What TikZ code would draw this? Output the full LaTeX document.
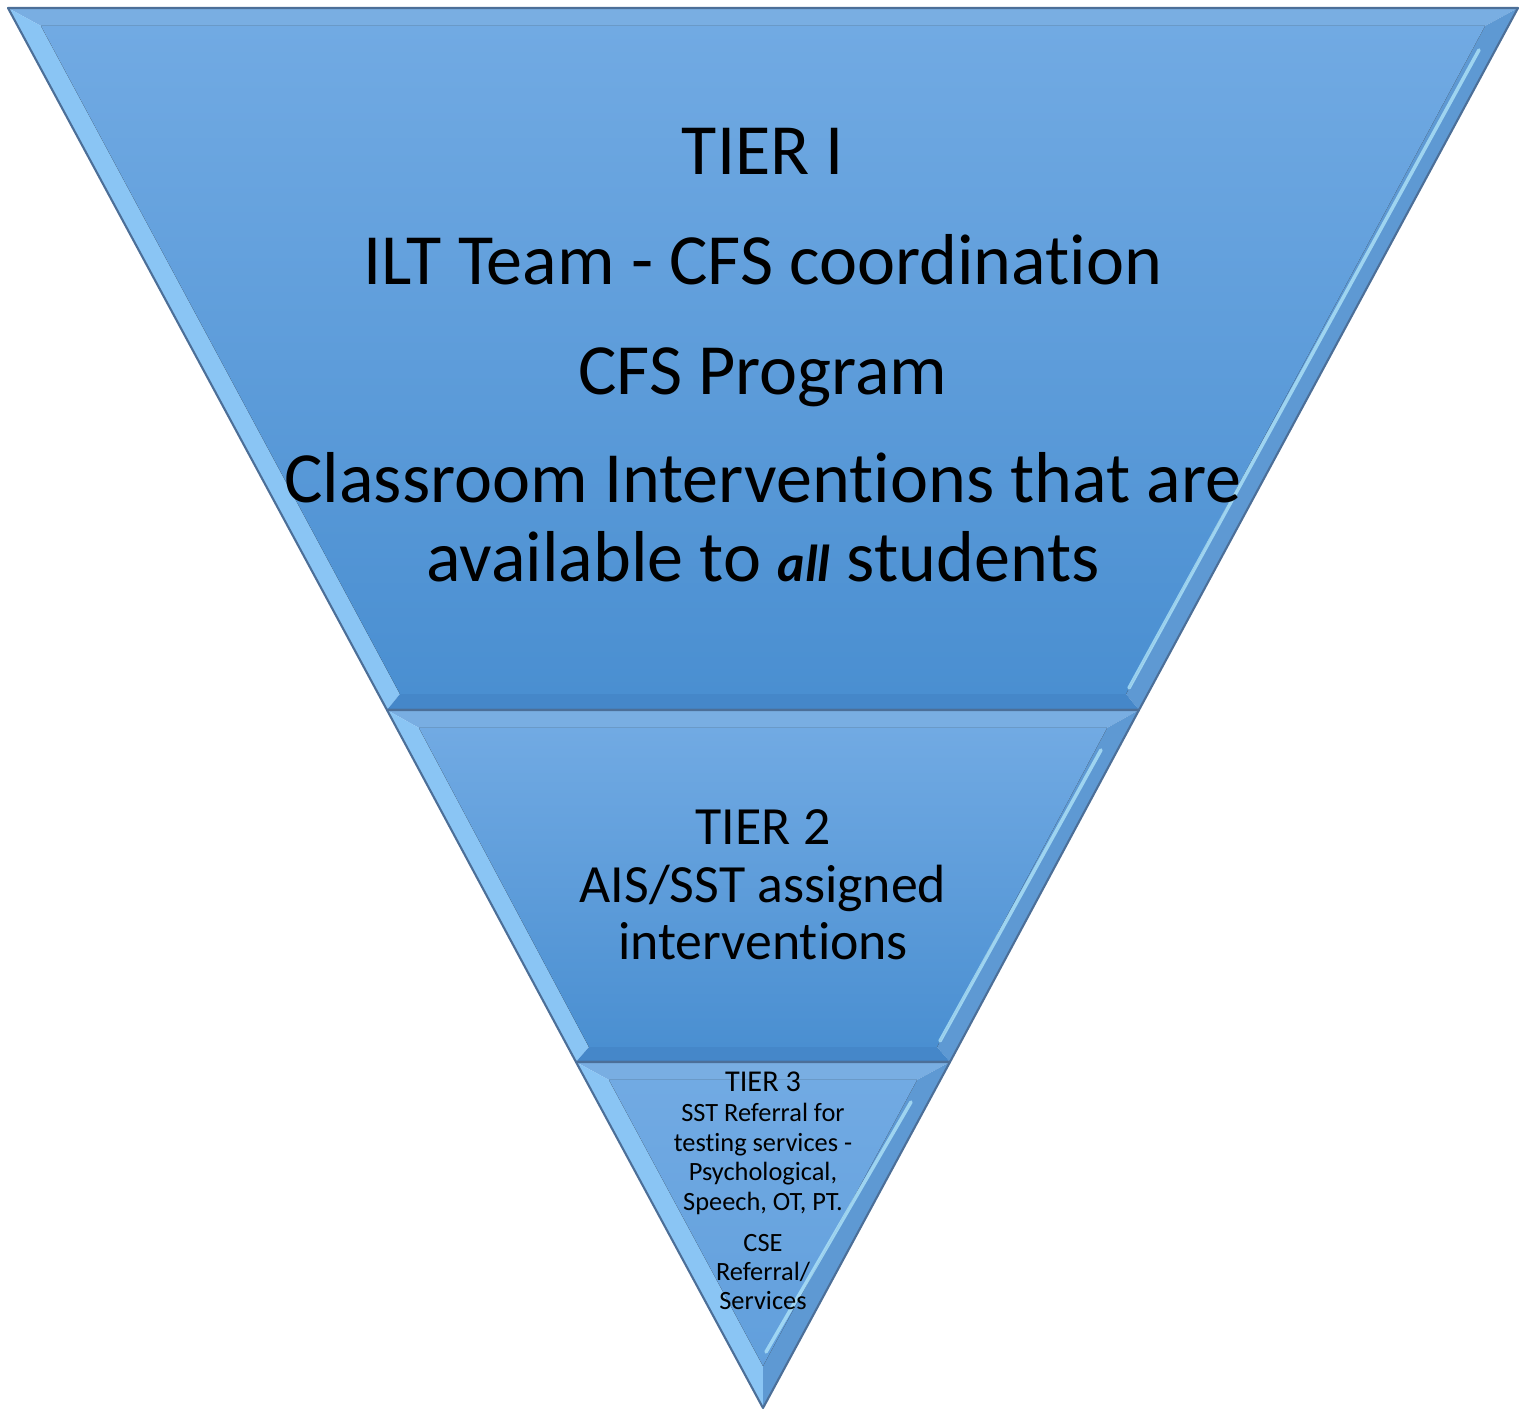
\documentclass[tikz,border=0pt]{standalone}
\usepackage{fontspec}
\setmainfont{Carlito}[Ligatures=NoCommon]
\usetikzlibrary{calc}
\definecolor{bandtop}{HTML}{71AAE3}
\definecolor{bandbot}{HTML}{4A8FD1}
\definecolor{bevelleft}{HTML}{8AC5F4}
\definecolor{bevelright}{HTML}{5E99D3}
\definecolor{bevelhigh}{HTML}{B4E8FB}
\definecolor{beveltop}{HTML}{79AEE2}
\definecolor{bevelbot}{HTML}{4587C9}
\definecolor{rimline}{HTML}{4C6F98}
\tikzset{
  band/.style={top color=bandtop, bottom color=bandbot},
  shine/.style={bevelhigh, line width=1pt, line cap=round, opacity=0.75},
  tierbig/.style={font=\fontsize{20.5}{25}\selectfont, anchor=base, inner sep=0pt},
  tiermid/.style={font=\fontsize{15.3}{19}\selectfont, anchor=base, inner sep=0pt},
  tierhead/.style={font=\fontsize{8.6}{10}\selectfont, anchor=base, inner sep=0pt},
  tiersmall/.style={font=\fontsize{7.5}{9}\selectfont, anchor=base, inner sep=0pt}
}
\begin{document}
\begin{tikzpicture}[x=0.01cm, y=-0.01cm, line join=round]
    \useasboundingbox (0,0) rectangle (1526,1410);

    % Outer corners of the inverted triangle and its band cuts
    \coordinate (A) at (8,8);
    \coordinate (B) at (1518,8);
    \coordinate (C) at (1139,710);
    \coordinate (D) at (387,710);
    \coordinate (E) at (950,1062);
    \coordinate (F) at (576,1062);
    \coordinate (S) at (763,1408);

    % Inner (bevel) corners, tier 1
    \coordinate (a1) at (41,26);
    \coordinate (b1) at (1485,26);
    \coordinate (c1) at (1126,694);
    \coordinate (d1) at (400,694);
    % Inner corners, tier 2
    \coordinate (a2) at (419,728);
    \coordinate (b2) at (1107,728);
    \coordinate (c2) at (937,1047);
    \coordinate (d2) at (589,1047);
    % Inner corners, tier 3
    \coordinate (a3) at (609,1080);
    \coordinate (b3) at (917,1080);
    \coordinate (s3) at (763,1366);

    % Tier 1 band
    \fill[beveltop] (A) -- (B) -- (b1) -- (a1) -- cycle;
    \fill[bevelleft] (A) -- (a1) -- (d1) -- (D) -- cycle;
    \fill[bevelright] (B) -- (C) -- (c1) -- (b1) -- cycle;
    \fill[bevelbot] (D) -- (d1) -- (c1) -- (C) -- cycle;
    \fill[band] (a1) -- (b1) -- (c1) -- (d1) -- cycle;
    \draw[shine] ($(b1)+(-6,24)$) -- ($(c1)+(3,-6)$);
    \draw[rimline, line width=0.6pt] (A) -- (B) -- (C) -- (D) -- cycle;

    % Tier 2 band
    \fill[beveltop] (D) -- (C) -- (b2) -- (a2) -- cycle;
    \fill[bevelleft] (D) -- (a2) -- (d2) -- (F) -- cycle;
    \fill[bevelright] (C) -- (E) -- (c2) -- (b2) -- cycle;
    \fill[bevelbot] (F) -- (d2) -- (c2) -- (E) -- cycle;
    \fill[band] (a2) -- (b2) -- (c2) -- (d2) -- cycle;
    \draw[shine] ($(b2)+(-6,22)$) -- ($(c2)+(3,-6)$);
    \draw[rimline, line width=0.6pt] (D) -- (C) -- (E) -- (F) -- cycle;

    % Tier 3 band
    \fill[beveltop] (F) -- (E) -- (b3) -- (a3) -- cycle;
    \fill[bevelleft] (F) -- (a3) -- (s3) -- (S) -- cycle;
    \fill[bevelright] (E) -- (S) -- (s3) -- (b3) -- cycle;
    \fill[top color=bandtop, bottom color=bandtop!60!bandbot] (a3) -- (b3) -- (s3) -- cycle;
    \draw[shine] ($(b3)+(-6,22)$) -- ($(s3)+(3,-14)$);
    \draw[rimline, line width=0.6pt] (F) -- (E) -- (S) -- cycle;

    % Tier 1 text
    \node[tierbig] (t1head) at (763,175) {TIER I};
    \node[tierbig] (t1ilt) at (763,285) {ILT Team - CFS coordination};
    \node[tierbig] (t1cfs) at (763,395) {CFS Program};
    \node[tierbig] (t1class) at (763,503) {Classroom Interventions that are};
    \node[tierbig] (t1avail) at (763,582) {available to {\fontsize{14.8}{18}\selectfont\textbf{\textit{all}}} students};

    % Tier 2 text
    \node[tiermid] (t2head) at (763,845) {TIER 2};
    \node[tiermid] (t2ais) at (763,903) {AIS/SST assigned};
    \node[tiermid] (t2int) at (763,960) {interventions};

    % Tier 3 text
    \node[tierhead] (t3head) at (763,1092) {TIER 3};
    \node[tiersmall] (t3sst) at (763,1122) {SST Referral for};
    \node[tiersmall] (t3test) at (763,1152) {testing services -};
    \node[tiersmall] (t3psy) at (763,1181) {Psychological,};
    \node[tiersmall] (t3spe) at (763,1211) {Speech, OT, PT.};
    \node[tiersmall] (t3cse) at (763,1252) {CSE};
    \node[tiersmall] (t3ref) at (763,1281) {Referral/};
    \node[tiersmall] (t3ser) at (763,1310) {Services};
\end{tikzpicture}
\end{document}
